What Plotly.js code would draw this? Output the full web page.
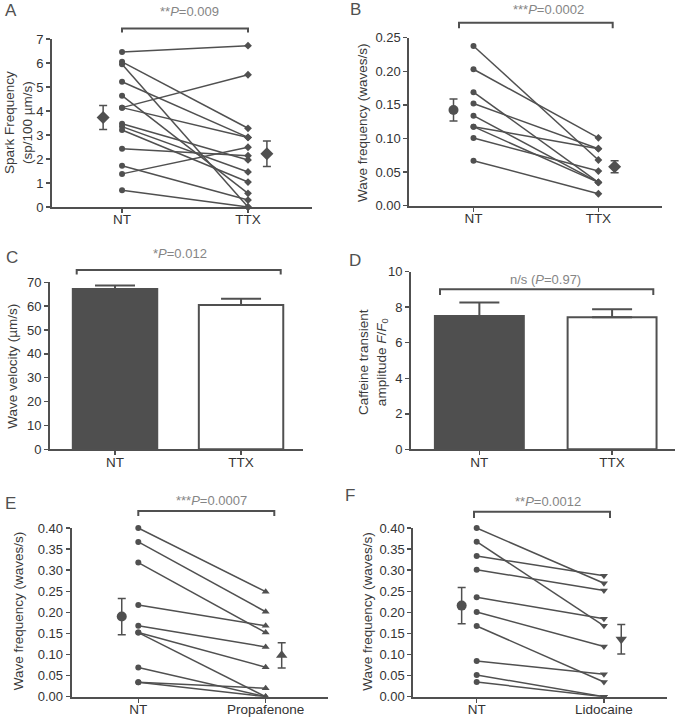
<!DOCTYPE html>
<html><head><meta charset="utf-8">
<script src="https://cdn.plot.ly/plotly-3.0.1.min.js"></script>
<style>html,body{margin:0;padding:0;background:#fff}#plot{width:682px;height:719px}</style>
</head><body><div id="plot"></div>
<script>
// ---------- data ----------
const catsTTX = ['NT', 'TTX'];
const catsPro = ['NT', 'Propafenone'];
const catsLido = ['NT', 'Lidocaine'];

// Panel A: spark frequency (sp/100 µm/s), paired cells
const A_nt  = [6.46, 6.05, 5.95, 5.22, 4.64, 4.14, 4.14, 3.47, 3.35, 3.21, 2.43, 1.72, 1.38, 0.70];
const A_ttx = [6.72, 3.28, 0.00, 2.90, 0.57, 5.51, 2.90, 1.96, 1.46, 1.04, 2.14, 0.29, 2.49, 0.00];
const A_mean = [3.73, 2.22];
const A_sem  = [0.50, 0.53];

// Panel B: wave frequency (waves/s)
const B_nt  = [0.2376, 0.203, 0.169, 0.152, 0.134, 0.1176, 0.1176, 0.1007, 0.067];
const B_ttx = [0.068, 0.101, 0.0347, 0.0848, 0.0347, 0.0848, 0.0347, 0.0515, 0.0178];
const B_mean = [0.1424, 0.058];
const B_sem  = [0.0165, 0.009];

// Panel C: wave velocity (µm/s)
const C_mean = [67.2, 60.5];
const C_sem  = [1.5, 2.6];

// Panel D: caffeine transient amplitude F/F0
const D_mean = [7.5, 7.43];
const D_sem  = [0.76, 0.45];

// Panel E: wave frequency, NT vs propafenone
const E_nt  = [0.400, 0.367, 0.318, 0.2175, 0.168, 0.152, 0.152, 0.069, 0.034, 0.034];
const E_pro = [0.249, 0.2015, 0.152, 0.168, 0.118, 0.070, 0.000, 0.000, 0.020, 0.000];
const E_mean = [0.19, 0.098];
const E_sem  = [0.043, 0.030];

// Panel F: wave frequency, NT vs lidocaine
const F_nt   = [0.400, 0.3675, 0.3336, 0.301, 0.2357, 0.2008, 0.1676, 0.0846, 0.0514, 0.0348];
const F_lido = [0.269, 0.168, 0.287, 0.252, 0.185, 0.119, 0.035, 0.053, 0.000, 0.000];
const F_mean = [0.216, 0.136];
const F_sem  = [0.043, 0.035];

const pLabels = ['**<i>P</i>=0.009', '***<i>P</i>=0.0002', '*<i>P</i>=0.012', 'n/s (<i>P</i>=0.97)', '***<i>P</i>=0.0007', '**<i>P</i>=0.0012'];

// ---------- style ----------
const W = 682, H = 719;
const C_LINE = '#505050';
const FONT = 'Liberation Sans, Arial, sans-serif';
const px = x => x / W;
const py = y => 1 - y / H;

const traces = [];
function paired(nt, tr, xa, ya, trSymbol, meanPos, mean, sem, meanSymbols) {
  const lx = [], ly = [];
  nt.forEach((v, i) => { lx.push(0, 1, null); ly.push(v, tr[i], null); });
  traces.push({type:'scatter', mode:'lines', x:lx, y:ly, xaxis:xa, yaxis:ya,
    line:{color:C_LINE, width:1.5}, hoverinfo:'skip', showlegend:false});
  traces.push({type:'scatter', mode:'markers', x:nt.map(()=>0), y:nt, xaxis:xa, yaxis:ya, cliponaxis:false,
    marker:{symbol:'circle', size:6, color:C_LINE}, showlegend:false});
  traces.push({type:'scatter', mode:'markers', x:tr.map(()=>1), y:tr, xaxis:xa, yaxis:ya, cliponaxis:false,
    marker:{symbol:trSymbol, size:trSymbol==='diamond'?6:7, color:C_LINE}, showlegend:false});
  [0,1].forEach(k => {
    traces.push({type:'scatter', mode:'markers', x:[meanPos[k]], y:[mean[k]], xaxis:xa, yaxis:ya, cliponaxis:false,
      marker:{symbol:meanSymbols[k], size:10, color:C_LINE},
      error_y:{type:'data', array:[sem[k]], color:C_LINE, thickness:1.5, width:4}, showlegend:false});
  });
}
function bars(mean, sem, xa, ya) {
  traces.push({type:'bar', x:[0,1], y:mean, xaxis:xa, yaxis:ya, width:0.67,
    marker:{color:['#4f4f4f','#ffffff'], line:{color:C_LINE, width:2}},
    error_y:{type:'data', symmetric:false, array:sem, arrayminus:[0,0], color:C_LINE, thickness:2, width:20},
    showlegend:false});
}

paired(A_nt, A_ttx, 'x', 'y', 'diamond', [-0.15, 1.15], A_mean, A_sem, ['diamond','diamond']);
paired(B_nt, B_ttx, 'x2', 'y2', 'diamond', [-0.16, 1.13], B_mean, B_sem, ['circle','diamond']);
bars(C_mean, C_sem, 'x3', 'y3');
bars(D_mean, D_sem, 'x4', 'y4');
paired(E_nt, E_pro, 'x5', 'y5', 'triangle-up', [-0.13, 1.126], E_mean, E_sem, ['circle','triangle-up']);
paired(F_nt, F_lido, 'x6', 'y6', 'triangle-down', [-0.118, 1.136], F_mean, F_sem, ['circle','triangle-down']);

function xax(l, r, left, right, ticks, anchor) {
  return {domain:[px(l), px(r)], range:[left, right], anchor:anchor, tickvals:[0,1], ticktext:ticks,
    showline:true, linecolor:C_LINE, linewidth:2, ticks:'outside', ticklen:4, tickwidth:1.5, tickcolor:C_LINE,
    showgrid:false, zeroline:false, fixedrange:true, ticklabelstandoff:-5,
    tickfont:{family:FONT, size:13.5, color:'#333'}};
}
function yax(t, b, range, dtick, fmt, anchor) {
  const o = {domain:[py(b), py(t)], range:range, dtick:dtick, tick0:0, anchor:anchor,
    showline:true, linecolor:C_LINE, linewidth:2, ticks:'outside', ticklen:4, tickwidth:1.5, tickcolor:C_LINE,
    showgrid:false, zeroline:false, fixedrange:true,
    tickfont:{family:FONT, size:13, color:'#333'}};
  if (fmt) o.tickformat = fmt;
  return o;
}

const layout = {
  width:W, height:H, margin:{l:0, r:0, t:0, b:0},
  paper_bgcolor:'#fff', plot_bgcolor:'rgba(0,0,0,0)', showlegend:false,
  xaxis:  xax(52, 312, -0.556, 1.508, catsTTX, 'y'),
  yaxis:  yax(39, 207, [0, 7], 1, null, 'x'),
  xaxis2: xax(409.3, 661.7, -0.514, 1.507, catsTTX, 'y2'),
  yaxis2: yax(37.7, 205.7, [0, 0.25], 0.05, '.2f', 'x2'),
  xaxis3: xax(50, 303.3, -0.516, 1.494, catsTTX, 'y3'),
  yaxis3: yax(282.3, 449.3, [0, 70], 10, null, 'x3'),
  xaxis4: xax(411, 675, -0.515, 1.474, catsTTX, 'y4'),
  yaxis4: yax(271.7, 449.3, [0, 10], 2, null, 'x4'),
  xaxis5: xax(71.7, 328.3, -0.523, 1.492, catsPro, 'y5'),
  yaxis5: yax(528, 696.7, [0, 0.4], 0.05, '.2f', 'x5'),
  xaxis6: xax(413.3, 666.7, -0.498, 1.493, catsLido, 'y6'),
  yaxis6: yax(528, 696.7, [0, 0.4], 0.05, '.2f', 'x6'),
  bargap:0,
  shapes:[], annotations:[]
};

// brackets [x1, x2, ybar, yleg] in pixels
const brackets = [[122, 248, 28.5, 32.5], [459, 612.7, 22.7, 28.3], [76.7, 280.7, 270, 274.5],
                  [440, 653.3, 289.3, 295], [138.3, 274.3, 511, 516], [474, 610, 511.7, 518]];
brackets.forEach(b => {
  layout.shapes.push({type:'path', xref:'paper', yref:'paper',
    path:`M ${px(b[0])} ${py(b[3])} L ${px(b[0])} ${py(b[2])} L ${px(b[1])} ${py(b[2])} L ${px(b[1])} ${py(b[3])}`,
    line:{color:C_LINE, width:2}});
});
// P-value texts: [cx, cy]
const pPos = [[190, 11], [548, 9.3], [180, 253.3], [545, 280], [211.7, 500], [548.3, 501.7]];
pPos.forEach((p, i) => {
  layout.annotations.push({xref:'paper', yref:'paper', x:px(p[0]), y:py(p[1]), xanchor:'center', yanchor:'middle',
    text:pLabels[i], showarrow:false, font:{family:FONT, size:13, color:'#858585'}});
});
// panel letters
const letters = [['A', 11, 10], ['B', 355, 9], ['C', 11.7, 257.3], ['D', 355, 260], ['E', 10, 503], ['F', 350, 495]];
letters.forEach(l => {
  layout.annotations.push({xref:'paper', yref:'paper', x:px(l[1]), y:py(l[2]), xanchor:'center', yanchor:'middle',
    text:l[0], showarrow:false, font:{family:FONT, size:17, color:'#505050'}});
});
// y-axis titles: [text, cx, cy]
const yTitles = [
  ['Spark Frequency<br>(sp/100 µm/s)', 18, 123],
  ['Wave frequency (waves/s)', 362, 123],
  ['Wave velocity (µm/s)', 11.7, 366],
  ['Caffeine transient<br>amplitude <i>F</i>/<i>F</i><sub>0</sub>', 373, 362],
  ['Wave frequency (waves/s)', 18.3, 611],
  ['Wave frequency (waves/s)', 366.7, 611]
];
yTitles.forEach(t => {
  layout.annotations.push({xref:'paper', yref:'paper', x:px(t[1]), y:py(t[2]), xanchor:'center', yanchor:'middle',
    text:t[0], textangle:-90, showarrow:false, font:{family:FONT, size:13.5, color:'#3a3a3a'}});
});

Plotly.newPlot('plot', traces, layout, {displayModeBar:false, staticPlot:true});
</script>
</body></html>
